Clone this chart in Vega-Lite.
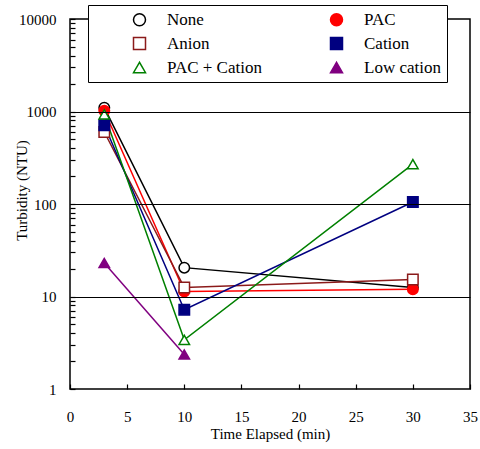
{
  "$schema": "https://vega.github.io/schema/vega-lite/v6.json",
  "width": 400,
  "height": 370,
  "autosize": {"type": "none"},
  "padding": {"left": 70, "top": 19, "right": 10, "bottom": 60},
  "background": "white",
  "config": {
    "view": {"stroke": "black", "strokeWidth": 1.5},
    "font": "Liberation Serif",
    "axis": {"domain": false, "tickColor": "black", "tickWidth": 1.2, "zindex": 1},
    "legend": {"labelFont": "Liberation Serif", "labelFontSize": 17, "labelColor": "black"}
  },
  "data": {
    "values": [
      {"t": 3, "v": 1100, "s": "None"},
      {"t": 10, "v": 20.5, "s": "None"},
      {"t": 30, "v": 12.5, "s": "None"},
      {"t": 3, "v": 1020, "s": "PAC"},
      {"t": 10, "v": 11.3, "s": "PAC"},
      {"t": 30, "v": 12, "s": "PAC"},
      {"t": 3, "v": 600, "s": "Anion"},
      {"t": 10, "v": 12.5, "s": "Anion"},
      {"t": 30, "v": 15.3, "s": "Anion"},
      {"t": 3, "v": 710, "s": "Cation"},
      {"t": 10, "v": 7.2, "s": "Cation"},
      {"t": 30, "v": 105, "s": "Cation"},
      {"t": 3, "v": 930, "s": "PAC + Cation"},
      {"t": 10, "v": 3.4, "s": "PAC + Cation"},
      {"t": 30, "v": 270, "s": "PAC + Cation"},
      {"t": 3, "v": 23, "s": "Low cation"},
      {"t": 10, "v": 2.36, "s": "Low cation"}
    ]
  },
  "encoding": {
    "x": {
      "field": "t", "type": "quantitative",
      "scale": {"domain": [0, 35], "nice": false},
      "axis": {"values": [0, 5, 10, 15, 20, 25, 30, 35], "title": "Time Elapsed (min)", "grid": false, "offset": -5, "tickSize": 5, "labelPadding": 20, "titlePadding": 2, "labelFlush": false, "zindex": 1,
        "labelFont": "Liberation Serif", "titleFont": "Liberation Serif", "labelFontSize": 15, "titleFontSize": 15, "titleFontWeight": "normal", "labelColor": "black", "titleColor": "black"}
    },
    "y": {
      "field": "v", "type": "quantitative",
      "scale": {"type": "log", "domain": [1, 10000], "nice": false},
      "axis": {
        "values": [1,2,3,4,5,6,7,8,9,10,20,30,40,50,60,70,80,90,100,200,300,400,500,600,700,800,900,1000,2000,3000,4000,5000,6000,7000,8000,9000,10000],
        "labelExpr": "indexof([1,10,100,1000,10000], datum.value) >= 0 ? datum.label : ''",
        "format": "d",
        "title": "Turbidity (NTU)",
        "titleX": -54,
        "titleY": 171,
        "titleBaseline": "middle",
        "grid": true,
        "gridColor": "black",
        "gridWidth": 1,
        "gridOpacity": {"condition": {"test": "indexof([10,100,1000], datum.value) >= 0", "value": 1}, "value": 0},
        "offset": -5,
        "tickSize": 5,
        "labelPadding": 14,
        "labelFlush": false,
        "zindex": 1,
        "labelFont": "Liberation Serif", "titleFont": "Liberation Serif", "labelFontSize": 15, "titleFontSize": 15, "titleFontWeight": "normal", "labelColor": "black", "titleColor": "black"
      }
    }
  },
  "layer": [
    {
      "mark": {"type": "line", "strokeWidth": 1.5},
      "encoding": {
        "stroke": {"field": "s", "type": "nominal",
          "scale": {"domain": ["None", "PAC", "Anion", "Cation", "PAC + Cation", "Low cation"], "range": ["#000000", "#ff0000", "#8b1a1a", "#000080", "#008000", "#800080"]},
          "title": null,
          "legend": {"orient": "none", "legendX": 18, "legendY": -14, "columns": 2, "direction": "horizontal", "fillColor": "white", "strokeColor": "black", "padding": 6, "columnPadding": 29, "rowPadding": 5, "symbolSize": 144, "symbolStrokeWidth": 1.5, "symbolOffset": 37, "labelOffset": 19, "zindex": 2}},
        "strokeWidth": {"condition": {"test": "datum.s === 'Low cation'", "value": 1}, "value": 1.5}
      }
    },
    {
      "mark": {"type": "point", "size": 110, "strokeWidth": 1.5, "opacity": 1},
      "encoding": {
        "stroke": {"field": "s", "type": "nominal",
          "scale": {"domain": ["None", "PAC", "Anion", "Cation", "PAC + Cation", "Low cation"], "range": ["#000000", "#ff0000", "#8b1a1a", "#000080", "#008000", "#800080"]},
          "title": null},
        "fill": {"field": "s", "type": "nominal",
          "scale": {"domain": ["None", "PAC", "Anion", "Cation", "PAC + Cation", "Low cation"], "range": ["#ffffff", "#ff0000", "#ffffff", "#000080", "#ffffff", "#800080"]},
          "title": null},
        "shape": {"field": "s", "type": "nominal",
          "scale": {"domain": ["None", "PAC", "Anion", "Cation", "PAC + Cation", "Low cation"], "range": ["circle", "circle", "square", "square", "triangle-up", "triangle-up"]},
          "title": null}
      }
    }
  ]
}
